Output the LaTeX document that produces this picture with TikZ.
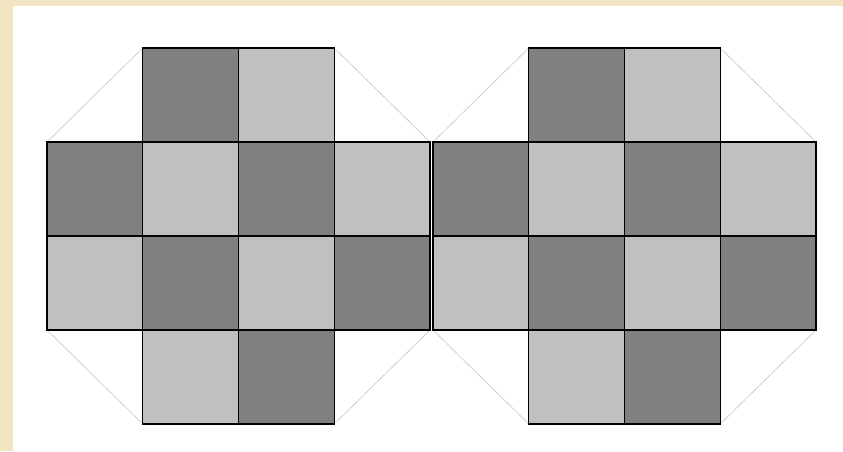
\documentclass[tikz,border=0pt]{standalone}
\definecolor{parchment}{RGB}{243,228,196}
\definecolor{darkcell}{RGB}{128,128,128}
\definecolor{lightcell}{RGB}{192,192,192}
\begin{document}
\begin{tikzpicture}[x=1pt,y=-1pt]
    % cell width and height (in pixels of the reference)
    \def\dx{95.75}
    \def\dy{94}

    % 1) Background: parchment strip and white sheet
    \useasboundingbox (0,0) rectangle (843,451);
    \fill[parchment] (0,0) rectangle (843,451);
    \fill[white] (13,6) rectangle (843,451);

    % 2) Two identical cross-shaped panels
    \foreach \ox in {47,433}{
      % corner diagonals
      \draw[gray!45,line width=0.6pt] (\ox,48+\dy) -- (\ox+\dx,48);
      \draw[gray!45,line width=0.6pt] (\ox+3*\dx,48) -- (\ox+4*\dx,48+\dy);
      \draw[gray!45,line width=0.6pt] (\ox,48+3*\dy) -- (\ox+\dx,48+4*\dy);
      \draw[gray!45,line width=0.6pt] (\ox+3*\dx,48+4*\dy) -- (\ox+4*\dx,48+3*\dy);
      % filled cells: column / row / colour
      \foreach \c/\r/\col in {1/0/darkcell,2/0/lightcell,
                              0/1/darkcell,1/1/lightcell,2/1/darkcell,3/1/lightcell,
                              0/2/lightcell,1/2/darkcell,2/2/lightcell,3/2/darkcell,
                              1/3/lightcell,2/3/darkcell}
        \filldraw[fill=\col,draw=black,line width=1.3pt]
          (\ox+\c*\dx,48+\r*\dy) rectangle ++(\dx,\dy);
    }
\end{tikzpicture}
\end{document}
